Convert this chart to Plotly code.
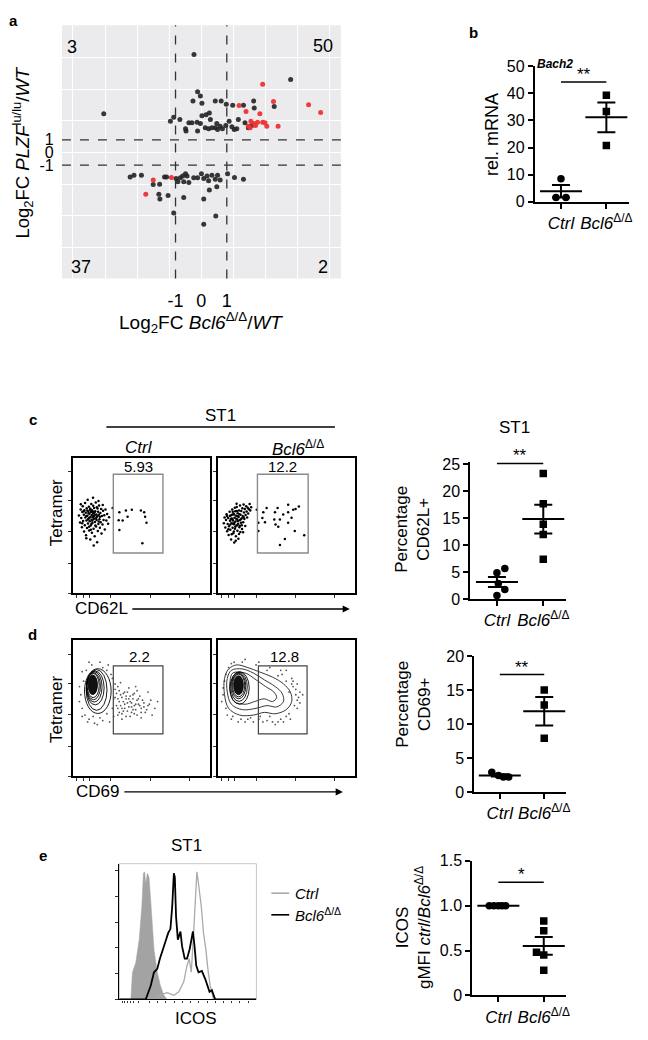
import plotly.graph_objects as go
import numpy as np

# page is drawn inside the browser's default 8px body margin: size the figure to fit exactly
CANVAS_W, CANVAS_H, OFF = 648, 1040, 8
FW, FH = CANVAS_W - 2 * OFF, CANVAS_H - 2 * OFF
FONT = "Liberation Sans, Arial, sans-serif"

# ---------------- data ----------------
# panel a : log2FC scatter
a_black_x = [-0.28, 3.49, -3.80, -0.14, -0.03, -0.32, 0.03, 0.55, 0.78, 0.98, 1.23, 1.65, 2.05, 2.07, 2.85,
             -1.07, -1.20, -0.83, -0.61, -0.59, -0.48, -0.36, -0.16, -0.14, 0.03, 0.19, 0.32, 0.36, 0.16, 0.29,
             0.42, 0.55, 0.64, 0.74, 0.83, 0.96, 1.09, 1.20, 1.29, 1.39, 1.45, 1.71, 1.84, 1.97, -0.03, 0.61,
             -2.77, -2.62, -2.33, -1.87, -1.62, -1.65, -1.61, -1.29, -1.43, -1.35, -1.07, -0.98, -0.91, -0.81,
             -0.72, -0.68, -0.61, -0.55, -0.48, -0.68, -0.29, -0.14, 0.01, 0.10, 0.10, 0.23, 0.29, 0.32, 0.42,
             0.55, 0.61, 0.64, 0.74, 0.57, 0.10, 1.03, 1.30, 1.65]
a_black_y = [7.78, 5.78, 3.08, 4.82, 4.48, 4.09, 3.91, 4.09, 4.09, 3.83, 3.75, 3.75, 4.09, 3.52, 3.65,
             2.79, 2.48, 2.61, 1.88, 1.70, 2.35, 2.35, 2.40, 1.70, 2.92, 3.00, 3.13, 2.61, 1.96, 1.88,
             1.96, 1.96, 1.83, 2.09, 1.88, 2.14, 2.48, 2.04, 1.83, 1.88, 2.61, 2.35, 1.96, 2.14, 2.30, 2.30,
             -1.94, -1.81, -1.81, -2.53, -2.51, -3.31, -3.68, -3.42, -1.94, -1.94, -4.79, -2.06, -2.32, -2.01,
             -1.86, -2.32, -1.68, -1.86, -2.38, -3.57, -2.01, -2.01, -1.68, -2.06, -3.68, -1.86, -2.25, -2.97, -1.81,
             -2.12, -2.71, -1.81, -2.19, -5.03, -5.70, -1.68, -1.99, -2.12]
a_red_x = [2.40, 2.82, 4.19, 4.66, 1.48, 1.75, 2.29, 1.94, 2.05, 2.12, 1.91, 1.84, 2.20, 2.40, 2.49, 2.56, 3.00,
           -1.87, -2.16, -1.16]
a_red_y = [5.42, 4.04, 3.78, 3.18, 3.73, 3.26, 3.08, 2.48, 2.30, 2.14, 1.96, 2.09, 2.40, 2.40, 2.35, 2.09, 2.09,
           -2.19, -3.31, -1.99]
a_quadrant_counts = ["3", "50", "37", "2"]

groups = ["<i>Ctrl</i>", "<i>Bcl6</i><sup>Δ/Δ</sup>"]

# panel b : Bach2 rel. mRNA
b_ctrl_x = [0.0, -0.11, 0.11]
b_ctrl_y = [8.5, 1.6, 1.6]
b_bcl_x = [1.0, 1.0, 1.0]
b_bcl_y = [39.3, 33.3, 20.8]

# panel c : percentage CD62L+
c_ctrl_x = [0.17, 0.0, 0.03, 0.17, 0.0]
c_ctrl_y = [5.7, 4.9, 2.9, 1.8, 0.7]
c_bcl_x = [1.0, 1.0, 1.0, 1.0, 1.0]
c_bcl_y = [23.3, 17.7, 13.9, 12.0, 7.4]

# panel d : percentage CD69+
d_ctrl_x = [-0.18, -0.03, 0.08, 0.2]
d_ctrl_y = [2.9, 2.4, 2.2, 2.2]
d_bcl_x = [1.0, 1.0, 1.0]
d_bcl_y = [15.0, 12.8, 7.9]

# panel e : ICOS gMFI ratio
e_ctrl_x = [-0.2, -0.1, 0.0, 0.08, 0.16]
e_ctrl_y = [1.0, 1.0, 1.0, 1.0, 1.0]
e_bcl_x = [1.0, 1.0, 0.84, 1.0, 1.0]
e_bcl_y = [0.83, 0.72, 0.48, 0.45, 0.28]

# flow plots (0-100 display units)
c_pct = ["5.93", "12.2"]
d_pct = ["2.2", "12.8"]
c_ctrl_cloud = [(4.6, 57.3), (5.4, 52.1), (5.9, 61.8), (6.3, 55.4), (6.8, 48.7), (7.1, 59.9), (7.4, 64.2),
                (7.7, 53.3), (8.2, 57.8), (8.4, 45.6), (8.6, 61.1), (8.9, 50.2), (9.1, 66.5), (9.3, 55.9),
                (9.6, 59.4), (9.8, 42.8), (10.1, 53.7), (10.3, 62.6), (10.5, 48.1), (10.8, 57.2), (11.0, 68.9),
                (11.2, 51.4), (11.4, 60.3), (11.6, 55.0), (11.9, 63.8), (12.1, 46.3), (12.3, 58.6), (12.5, 53.1),
                (12.7, 61.5), (12.9, 39.7), (13.1, 56.4), (13.2, 49.9), (13.4, 59.8), (13.6, 65.7), (13.8, 54.2),
                (14.0, 57.7), (14.1, 44.6), (14.3, 61.2), (14.5, 51.8), (14.7, 56.1), (14.9, 70.3), (15.1, 59.0),
                (15.3, 47.5), (15.5, 54.8), (15.7, 62.9), (15.9, 57.4), (16.1, 42.1), (16.3, 52.6), (16.5, 60.5),
                (16.7, 55.3), (16.9, 66.8), (17.1, 49.2), (17.3, 58.1), (17.5, 53.9), (17.7, 63.4), (17.9, 37.6),
                (18.1, 56.7), (18.4, 45.9), (18.6, 60.0), (18.8, 51.1), (19.1, 57.9), (19.3, 64.6), (19.6, 54.5),
                (19.9, 48.3), (20.2, 59.2), (20.5, 52.4), (20.8, 62.0), (21.1, 44.0), (21.4, 56.9), (21.8, 50.6),
                (22.2, 60.8), (22.6, 54.0), (23.1, 57.5), (23.5, 47.0), (24.0, 61.7), (24.6, 53.6), (25.2, 58.4),
                (25.9, 51.2), (26.6, 56.0), (11.7, 58.9), (13.0, 62.3), (14.4, 53.5), (15.6, 57.0), (12.4, 55.6),
                (16.0, 59.6), (10.7, 60.9), (17.4, 55.9), (13.7, 51.0), (12.0, 49.0), (15.0, 64.4), (9.9, 57.0),
                (18.2, 62.4), (14.8, 60.1), (11.3, 54.3), (16.6, 50.0), (8.0, 60.5), (19.0, 52.9), (13.3, 46.8),
                (20.0, 56.3), (7.0, 51.5), (15.4, 35.2), (10.0, 40.5), (22.0, 65.0), (6.0, 65.5), (18.9, 68.0)]
c_ctrl_gate = [(29.2, 62.8), (34.1, 59.7), (38.9, 60.9), (43.2, 61.6), (49.8, 60.9), (52.2, 59.7), (33.6, 53.8),
               (36.5, 53.6), (40.1, 56.3), (53.9, 51.9), (34.1, 46.6), (50.9, 36.9), (52.9, 56.3)]
c_bcl_cloud = [(4.5, 51.6), (5.0, 55.8), (5.6, 48.4), (6.1, 53.9), (6.5, 58.2), (6.9, 45.7), (7.3, 51.0),
               (7.6, 55.5), (8.0, 42.9), (8.3, 49.3), (8.7, 60.1), (9.0, 53.4), (9.2, 46.8), (9.5, 57.3),
               (9.8, 39.6), (10.1, 51.7), (10.3, 55.0), (10.6, 61.8), (10.9, 48.2), (11.1, 53.6), (11.4, 44.3),
               (11.6, 58.5), (11.9, 50.9), (12.1, 37.4), (12.3, 55.7), (12.6, 47.6), (12.8, 60.4), (13.0, 52.8),
               (13.3, 42.0), (13.5, 57.1), (13.7, 49.9), (13.9, 63.5), (14.2, 54.4), (14.4, 46.0), (14.6, 58.9),
               (14.9, 51.3), (15.1, 40.2), (15.3, 56.2), (15.6, 61.0), (15.8, 48.7), (16.0, 53.8), (16.3, 64.7),
               (16.5, 45.1), (16.7, 57.9), (17.0, 51.9), (17.2, 60.7), (17.5, 55.2), (17.8, 47.3), (18.0, 62.6),
               (18.3, 57.0), (18.6, 52.4), (18.9, 65.4), (19.2, 59.6), (19.5, 54.7), (19.8, 62.1), (20.1, 49.5),
               (20.4, 57.6), (20.8, 64.1), (21.1, 60.3), (21.5, 55.9), (21.9, 63.0), (22.3, 58.8), (22.8, 61.9),
               (23.3, 65.8), (23.8, 60.9), (24.4, 63.3), (12.0, 58.0), (13.6, 54.9), (11.3, 51.2), (14.8, 56.8),
               (10.5, 57.9), (15.9, 58.3), (12.9, 49.1), (9.6, 54.8), (16.9, 54.6), (14.0, 60.6), (11.8, 45.6),
               (13.2, 38.7), (10.2, 43.4), (15.5, 43.6), (7.8, 47.2), (17.6, 50.2), (12.5, 63.1), (8.8, 57.0),
               (19.0, 56.0), (14.3, 50.1), (11.0, 60.0), (16.2, 49.8), (9.3, 50.6), (6.7, 56.9), (13.8, 66.0),
               (18.5, 45.0), (12.2, 52.0), (14.7, 53.2), (10.8, 54.5)]
c_bcl_gate = [(28.5, 61.6), (33.3, 59.7), (35.7, 62.8), (29.7, 51.9), (34.5, 52.4), (29.7, 45.9), (41.8, 59.7),
              (43.7, 62.8), (45.4, 54.3), (42.2, 50.7), (47.8, 58.0), (51.4, 65.2), (51.4, 59.7), (53.9, 55.6),
              (55.1, 61.6), (56.8, 62.1), (59.2, 64.0), (51.4, 51.9), (56.2, 45.9), (49.0, 39.9), (45.4, 35.5),
              (63.1, 42.8), (44.2, 49.1), (41.3, 54.3), (32.6, 55.5)]
d_ctrl_dots = [(8, 70), (6, 60), (7, 50), (9, 45), (12, 42), (15, 44), (20, 43), (25, 46), (29, 50), (30, 57),
               (31, 64), (29, 72), (25, 78), (14, 82), (10, 78), (22, 80), (32, 52), (34, 55), (35, 60), (36, 50),
               (38, 53), (39, 57), (40, 48), (42, 55), (43, 51), (44, 60), (45, 46), (46, 53), (48, 57), (50, 50),
               (52, 54), (53, 47), (55, 52), (57, 56), (60, 50), (38, 62), (41, 65), (47, 63), (33, 45), (36, 42),
               (42, 44), (50, 43), (58, 45), (62, 55), (27, 40), (18, 38), (55, 62), (37, 48), (44, 49), (49, 52),
               (31, 58), (32, 61), (33, 57), (34, 63), (35, 52), (36, 58), (37, 55), (37, 61), (38, 50), (39, 59),
               (40, 54), (40, 62), (41, 51), (41, 57), (42, 59), (43, 47), (43, 54), (44, 57), (45, 52), (45, 61),
               (46, 49), (47, 56), (47, 45), (48, 53), (49, 59), (50, 47), (51, 56), (52, 51), (54, 49), (56, 53),
               (33, 50), (34, 47), (36, 46), (39, 44), (31, 68), (33, 66), (35, 69), (28, 75), (26, 82), (20, 84),
               (12, 84), (7, 77), (5, 66), (5, 55), (7, 44), (11, 40), (16, 39), (22, 41), (30, 44), (46, 66)]
d_bcl_dots = [(4, 60), (5, 70), (7, 45), (10, 42), (15, 40), (22, 42), (30, 42), (38, 44), (46, 42), (52, 46),
              (56, 52), (57, 60), (55, 66), (50, 70), (44, 74), (36, 78), (28, 82), (18, 84), (10, 83), (58, 56),
              (60, 62), (48, 40), (40, 40), (33, 40), (54, 72), (46, 78), (26, 40), (58, 50), (59, 58), (57, 64),
              (54, 68), (52, 62), (50, 44), (44, 40), (36, 41), (31, 44), (24, 43), (17, 42), (11, 44), (6, 50),
              (4, 65), (6, 75), (12, 84), (20, 86), (30, 84), (38, 80), (47, 75), (55, 70), (60, 54), (62, 60),
              (53, 42), (42, 38), (20, 40), (3, 55), (8, 80), (50, 78), (58, 68)]
# contour levels read as ellipses: centre x, centre y, half width, half height
d_ctrl_rings = [(18.4, 62.7, 9.7, 16.5), (17.5, 63.5, 7.6, 15.0), (16.5, 65.0, 6.5, 12.5),
                (15.8, 65.8, 5.7, 11.2), (15.3, 66.3, 5.0, 10.0), (15.0, 66.8, 4.4, 8.9)]
d_ctrl_core = (14.7, 67.3, 3.4, 7.2)
d_bcl_rings = [(16.0, 65.0, 7.0, 12.0), (15.6, 65.8, 6.0, 10.7), (15.4, 66.4, 5.1, 9.4), (15.3, 66.8, 4.4, 8.4)]
d_bcl_core = (15.2, 67.0, 3.5, 7.0)
d_bcl_tail_outer_x = [8, 14, 22, 30, 40, 48, 53, 54, 50, 42, 34, 26, 16, 8, 5, 5, 8]
d_bcl_tail_outer_y = [79, 82, 80, 77, 73, 68, 62, 55, 49, 46, 47, 45, 45, 50, 60, 72, 79]
d_bcl_tail_mid_x = [10, 18, 26, 34, 42, 47, 48, 43, 36, 28, 18, 10, 7, 7, 10]
d_bcl_tail_mid_y = [78, 79, 76, 71, 66, 61, 55, 51, 52, 50, 49, 53, 62, 72, 78]
d_bcl_tail_in_x = [11, 20, 28, 35, 41, 43, 40, 34, 27, 20, 12, 9, 9, 11]
d_bcl_tail_in_y = [76, 76, 71, 66, 62, 58, 55, 57, 55, 53, 55, 62, 70, 76]

# panel e histogram (0-100 display units)
e_iso_x = [8.4, 9.6, 12, 14.5, 16.4, 17.6, 18.5, 19.3, 20.5, 21.7, 22.9, 24.1, 25.3, 27.7, 30, 32.5, 35]
e_iso_y = [0, 20, 27, 44, 68, 93, 94, 85, 93, 90, 73, 56, 37, 20, 10, 3, 0]
e_ctrl_hx = [0, 26.5, 29, 35, 39.8, 43.4, 47, 49.4, 51, 52.5, 54.2, 55.4, 56.6, 57.8, 59.8, 61.4, 63.1, 64.6, 66.3,
             68.7, 100]
e_ctrl_hy = [0, 0, 3, 5, 3, 5.6, 13, 25, 30, 20, 49, 68.5, 94, 85, 68.5, 49, 37, 22.5, 10, 0, 0]
e_bcl_hx = [0, 19.3, 22.9, 25.3, 27.7, 29.6, 32.5, 35.7, 37.3, 38.6, 39.8, 40.5, 41.4, 42.7, 44.6, 45.8, 47.7, 49.4,
            51.3, 53.7, 54.9, 56.1, 57.8, 60.2, 62.7, 65.8, 67.5, 69.9, 100]
e_bcl_hy = [0, 0, 10, 20, 22.5, 30, 39, 49, 52, 68.5, 93, 90, 61, 44, 50, 39, 30, 30, 37, 50, 39, 25, 20, 21, 15, 5.6,
            6.8, 0, 0]
e_legend_names = ["<i>Ctrl</i>", "<i>Bcl6</i><sup>Δ/Δ</sup>"]
e_line_colors = ["#aaaaaa", "black"]


# ---------------- layout helpers (positions in canvas pixels) ----------------
def px(x):
    return (x - OFF) / FW


def py(y):
    return 1 - (y - OFF) / FH


def xd(a, b):
    return [px(a), px(b)]


def yd(top, bot):
    return [py(bot), py(top)]


def xs_(pts):
    return [p[0] for p in pts]


def ys_(pts):
    return [p[1] for p in pts]


fig = go.Figure()
layout = dict(width=FW, height=FH, margin=dict(l=0, r=0, t=0, b=0), paper_bgcolor="white",
              plot_bgcolor="rgba(0,0,0,0)", font=dict(family=FONT, color="black"), showlegend=False)
shapes = []
annots = []


def text(x, y, t, size=17, angle=0, xanchor="center", yanchor="middle"):
    annots.append(dict(x=px(x), y=py(y), xref="paper", yref="paper", text=t, showarrow=False,
                       font=dict(size=size, family=FONT, color="black"),
                       textangle=angle, xanchor=xanchor, yanchor=yanchor))


# ---------------- panel a ----------------
layout["xaxis"] = dict(domain=xd(62.3, 343), anchor="y", range=[-5.43, 5.45], tickvals=[-1, 0, 1],
                       ticktext=["-1", "0", "1"], showgrid=False, zeroline=False, showline=False,
                       ticks="outside", ticklen=6, tickcolor="rgba(0,0,0,0)", tickfont=dict(size=18),
                       minor=dict(tickmode="array", tickvals=[-5, -3.75, -2.5, -1.25, 0, 1.25, 2.5, 3.75, 5],
                                  showgrid=True, gridcolor="white", gridwidth=1.2, ticks=""))
layout["yaxis"] = dict(domain=yd(17.3, 275), anchor="x", range=[-10, 10.1], tickvals=[-1, 0, 1],
                       ticktext=["-1", "0", "1"], showgrid=False, zeroline=False, showline=False,
                       ticks="outside", ticklen=4, tickcolor="rgba(0,0,0,0)", tickfont=dict(size=16),
                       minor=dict(tickmode="array", tickvals=[-7.5, -5, -2.5, 0, 2.5, 5, 7.5],
                                  showgrid=True, gridcolor="white", gridwidth=1.2, ticks=""))
shapes.append(dict(type="rect", xref="x domain", yref="y domain", x0=0, x1=1, y0=0, y1=1,
                   fillcolor="#EBEBEE", line=dict(width=0), layer="below"))
for v in (-1, 1):
    shapes.append(dict(type="line", xref="x", yref="y domain", x0=v, x1=v, y0=0, y1=1,
                       line=dict(color="#333", width=1.3, dash="dash")))
    shapes.append(dict(type="line", xref="x domain", yref="y", x0=0, x1=1, y0=v, y1=v,
                       line=dict(color="#333", width=1.3, dash="dash")))
fig.add_trace(go.Scatter(x=a_black_x, y=a_black_y, mode="markers", xaxis="x", yaxis="y",
                         marker=dict(color="#222222", size=5, opacity=0.9)))
fig.add_trace(go.Scatter(x=a_red_x, y=a_red_y, mode="markers", xaxis="x", yaxis="y",
                         marker=dict(color="#EE3333", size=5, opacity=0.95)))
text(72, 40, a_quadrant_counts[0], 18)
text(325, 38, a_quadrant_counts[1], 18)
text(81, 263, a_quadrant_counts[2], 18)
text(325, 263, a_quadrant_counts[3], 18)
text(23, 147, "Log<sub>2</sub>FC <i>PLZF</i><sup>lu/lu</sup>/<i>WT</i>", 18.5, angle=-90)
text(202, 320, "Log<sub>2</sub>FC <i>Bcl6</i><sup>Δ/Δ</sup>/<i>WT</i>", 19)
text(14, 13, "<b>a</b>", 15)


# ---------------- dot plot panels ----------------
def dot_panel(idx, xdom, ydom, yrange, ytickvals, yticktext, cx, cy, bx, by, sig_y, sig_txt):
    xa, ya = f"x{idx}", f"y{idx}"
    layout[f"xaxis{idx}"] = dict(domain=xdom, anchor=ya, range=[-0.58, 1.5], tickvals=[0, 1], ticktext=groups,
                                 showline=True, linecolor="black", linewidth=1.6, ticks="outside", ticklen=5,
                                 tickwidth=1.6, tickcolor="black", tickfont=dict(size=17), showgrid=False,
                                 zeroline=False)
    ya_d = dict(domain=ydom, anchor=xa, range=yrange, tickvals=ytickvals,
                showline=True, linecolor="black", linewidth=1.6, ticks="outside", ticklen=5,
                tickwidth=1.6, tickcolor="black", tickfont=dict(size=16), showgrid=False,
                zeroline=False)
    if yticktext is not None:
        ya_d["ticktext"] = yticktext
    layout[f"yaxis{idx}"] = ya_d
    for xs, ys, sym, pos in ((cx, cy, "circle", 0), (bx, by, "square", 1)):
        fig.add_trace(go.Scatter(x=xs, y=ys, mode="markers", xaxis=xa, yaxis=ya,
                                 marker=dict(symbol=sym, size=7.5, color="black")))
        arr = np.array(ys, dtype=float)
        mean = float(arr.mean())
        sem = float(arr.std(ddof=1) / np.sqrt(len(arr))) if float(arr.std()) > 0 else 0.0
        fig.add_trace(go.Scatter(x=[pos], y=[mean], mode="markers", xaxis=xa, yaxis=ya,
                                 marker=dict(symbol="line-ew", size=30, line=dict(width=2, color="black")),
                                 error_y=dict(type="data", array=[sem], visible=bool(sem > 0), color="black",
                                              thickness=2, width=9)))
    shapes.append(dict(type="line", xref=xa, yref=ya, x0=0, x1=1, y0=sig_y, y1=sig_y,
                       line=dict(color="black", width=1.5)))
    annots.append(dict(x=0.5, y=sig_y, xref=xa, yref=ya, text=sig_txt, showarrow=False,
                       font=dict(size=17, family=FONT), yanchor="bottom", yshift=-4))


dot_panel(2, xd(538, 633), yd(59, 197), [0, 50], [0, 10, 20, 30, 40, 50], None,
          b_ctrl_x, b_ctrl_y, b_bcl_x, b_bcl_y, 44.2, "**")
text(495, 128, "rel. mRNA", 18, angle=-90)
text(558, 57, "<b><i>Bach2</i></b>", 12)
text(476, 25, "<b>b</b>", 15)

dot_panel(5, xd(473, 570), yd(461.3, 601), [0, 25.5], [0, 5, 10, 15, 20, 25], None,
          c_ctrl_x, c_ctrl_y, c_bcl_x, c_bcl_y, 25.2, "**")
text(518, 426, "ST1", 17)
text(415, 530, "Percentage<br>CD62L+", 17, angle=-90)

dot_panel(8, xd(477, 570), yd(659, 797), [0, 20], [0, 5, 10, 15, 20], None,
          d_ctrl_x, d_ctrl_y, d_bcl_x, d_bcl_y, 17.3, "**")
text(416, 708, "Percentage<br>CD69+", 17, angle=-90)

dot_panel(10, xd(475, 570), yd(867, 1004), [0, 1.5], [0, 0.5, 1.0, 1.5], ["0", "0.5", "1.0", "1.5"],
          e_ctrl_x, e_ctrl_y, e_bcl_x, e_bcl_y, 1.26, "*")
text(416, 935, "ICOS<br>gMFI <i>ctrl</i>/<i>Bcl6</i><sup>Δ/Δ</sup>", 17, angle=-90)


# ---------------- flow plots ----------------
def flow_axes(idx, xdom, ydom):
    common = dict(range=[0, 100], showline=True, mirror=True, linecolor="black", linewidth=1.6,
                  ticks="outside", ticklen=3, tickwidth=1, tickcolor="#333", showticklabels=False,
                  showgrid=False, zeroline=False)
    layout[f"xaxis{idx}"] = dict(domain=xdom, anchor=f"y{idx}", tickvals=[3, 8, 12, 28, 57, 85], **common)
    layout[f"yaxis{idx}"] = dict(domain=ydom, anchor=f"x{idx}", tickvals=[0, 22, 45.5, 68, 90], **common)


def flow_dots(ax, pts, size, color):
    fig.add_trace(go.Scatter(x=xs_(pts), y=ys_(pts), mode="markers", xaxis="x" + ax, yaxis="y" + ax,
                             marker=dict(size=size, color=color)))


# panel c
flow_axes(3, xd(73, 211), yd(457, 595))
flow_axes(4, xd(219, 357), yd(457, 595))
flow_dots("3", c_ctrl_cloud + c_ctrl_gate, 2.5, "black")
flow_dots("4", c_bcl_cloud + c_bcl_gate, 2.5, "black")
for i, (ax, g0, g1) in enumerate((("3", 29.7, 65.9), ("4", 29.0, 66.0))):
    shapes.append(dict(type="rect", xref="x" + ax, yref="y" + ax, x0=g0, x1=g1, y0=29.7, y1=87.7,
                       line=dict(color="#8a8a8a", width=1.4)))
    annots.append(dict(x=(g0 + g1) / 2, y=93.5, xref="x" + ax, yref="y" + ax, text=c_pct[i], showarrow=False,
                       font=dict(size=15, family=FONT)))
text(140, 447, "<i>Ctrl</i>", 17)
text(300, 447, "<i>Bcl6</i><sup>Δ/Δ</sup>", 17)
text(222, 414, "ST1", 17)
shapes.append(dict(type="line", xref="paper", yref="paper", x0=px(107), x1=px(337), y0=py(426), y1=py(426),
                   line=dict(color="black", width=1.4)))
text(57, 513, "Tetramer", 17, angle=-90)
text(102, 610, "CD62L", 17)
annots.append(dict(x=px(352), y=py(611), xref="paper", yref="paper", text="", showarrow=True, ax=-219, ay=0,
                   arrowhead=2, arrowsize=1.1, arrowwidth=1.3, arrowcolor="black"))
text(33, 418, "<b>c</b>", 15)

# panel d
flow_axes(6, xd(73, 211), yd(643, 781))
flow_axes(7, xd(219, 357), yd(643, 781))
flow_dots("6", d_ctrl_dots, 1.8, "#555")
flow_dots("7", d_bcl_dots, 1.8, "#555")
for ax, rings, core in (("6", d_ctrl_rings, d_ctrl_core), ("7", d_bcl_rings, d_bcl_core)):
    for (cx_, cy_, rx, ry) in rings:
        shapes.append(dict(type="circle", xref="x" + ax, yref="y" + ax, x0=cx_ - rx, x1=cx_ + rx,
                           y0=cy_ - ry, y1=cy_ + ry, line=dict(color="black", width=0.9)))
    cx_, cy_, rx, ry = core
    shapes.append(dict(type="circle", xref="x" + ax, yref="y" + ax, x0=cx_ - rx, x1=cx_ + rx,
                       y0=cy_ - ry, y1=cy_ + ry, fillcolor="#111", line=dict(color="black", width=0.9)))
for tx, ty in ((d_bcl_tail_outer_x, d_bcl_tail_outer_y), (d_bcl_tail_mid_x, d_bcl_tail_mid_y),
               (d_bcl_tail_in_x, d_bcl_tail_in_y)):
    fig.add_trace(go.Scatter(x=tx, y=ty, mode="lines", xaxis="x7", yaxis="y7",
                             line=dict(color="#222", width=0.9, shape="spline", smoothing=1.0)))
for i, (ax, g0, g1) in enumerate((("6", 29.7, 65.9), ("7", 29.7, 65.2))):
    shapes.append(dict(type="rect", xref="x" + ax, yref="y" + ax, x0=g0, x1=g1, y0=31.2, y1=81.2,
                       line=dict(color="#444", width=1.2)))
    annots.append(dict(x=(g0 + g1) / 2 + 1, y=88, xref="x" + ax, yref="y" + ax, text=d_pct[i], showarrow=False,
                       font=dict(size=15, family=FONT)))
text(57, 713, "Tetramer", 17, angle=-90)
text(98, 797, "CD69", 17)
annots.append(dict(x=px(345), y=py(797), xref="paper", yref="paper", text="", showarrow=True, ax=-220, ay=0,
                   arrowhead=2, arrowsize=1.1, arrowwidth=1.3, arrowcolor="black"))
text(33, 637, "<b>d</b>", 15)

# panel e histogram
layout["xaxis9"] = dict(domain=xd(120, 258), anchor="y9", range=[0, 100], showline=True, linecolor="black",
                        linewidth=1.4, ticks="outside", ticklen=2.5, tickcolor="#333",
                        tickvals=[2, 4, 6, 8, 10, 14, 22, 28, 34, 40, 46, 52, 58, 64, 70, 76, 82, 88, 94],
                        showticklabels=False, showgrid=False, zeroline=False)
layout["yaxis9"] = dict(domain=yd(870, 1008), anchor="x9", range=[0, 100], showline=True, linecolor="black",
                        linewidth=1.4, ticks="outside", ticklen=3, tickcolor="#333",
                        tickvals=[0, 19, 38, 57, 76, 95], showticklabels=False, showgrid=False, zeroline=False)
shapes.append(dict(type="rect", xref="x9 domain", yref="y9 domain", x0=0, x1=1, y0=0, y1=1,
                   line=dict(color="#c8c8c8", width=1), layer="below"))
fig.add_trace(go.Scatter(x=e_iso_x, y=e_iso_y, mode="lines", xaxis="x9", yaxis="y9",
                         fill="toself", fillcolor="#a3a3a3", line=dict(color="#a3a3a3", width=0.5)))
fig.add_trace(go.Scatter(x=e_ctrl_hx, y=e_ctrl_hy, mode="lines", xaxis="x9", yaxis="y9",
                         name=e_legend_names[0], line=dict(color=e_line_colors[0], width=1.3)))
fig.add_trace(go.Scatter(x=e_bcl_hx, y=e_bcl_hy, mode="lines", xaxis="x9", yaxis="y9",
                         name=e_legend_names[1], line=dict(color=e_line_colors[1], width=1.8)))
# compact legend (short line keys as in the reference)
for i, (name, col) in enumerate(zip(e_legend_names, e_line_colors)):
    ly = 900 + 22 * i
    shapes.append(dict(type="line", xref="paper", yref="paper", x0=px(273), x1=px(291), y0=py(ly), y1=py(ly),
                       line=dict(color=col, width=1.6)))
    text(295, ly, name, 15, xanchor="left")
text(188, 852, "ST1", 17)
text(197, 1027, "ICOS", 17)
text(43, 862, "<b>e</b>", 15)

layout["shapes"] = shapes
layout["annotations"] = annots
fig.update_layout(**layout)
fig.write_html("out.html")
